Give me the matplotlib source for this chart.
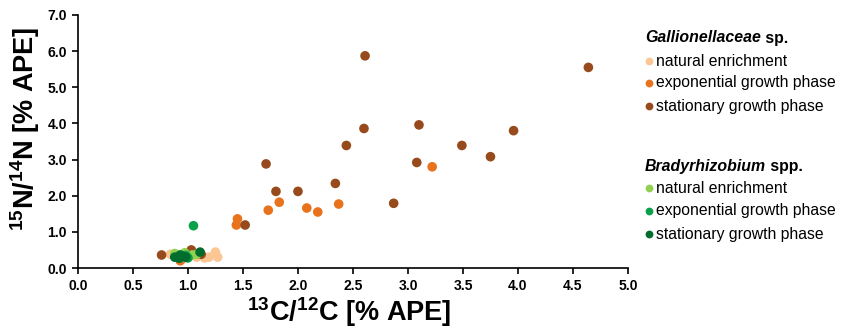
import matplotlib
matplotlib.use("Agg")
import matplotlib.pyplot as plt
from matplotlib.lines import Line2D

plt.rcParams['font.family'] = ['Liberation Sans', 'DejaVu Sans']
plt.rcParams['mathtext.fontset'] = 'custom'
plt.rcParams['mathtext.rm'] = 'Liberation Sans:bold'
plt.rcParams['mathtext.bf'] = 'Liberation Sans:bold'
plt.rcParams['mathtext.default'] = 'rm'

# Gallionellaceae sp.
gal_nat_x = [0.84, 0.90, 0.95, 1.00, 1.08, 1.15, 1.19, 1.25, 1.27]
gal_nat_y = [0.38, 0.30, 0.25, 0.40, 0.30, 0.28, 0.30, 0.44, 0.30]
gal_exp_x = [0.93, 1.00, 1.44, 1.45, 1.73, 1.83, 2.08, 2.18, 2.37, 3.22]
gal_exp_y = [0.20, 0.35, 1.19, 1.36, 1.60, 1.82, 1.66, 1.55, 1.77, 2.80]
gal_sta_x = [0.76, 1.03, 1.12, 0.97, 1.52, 1.71, 1.80, 2.00, 2.34, 2.44, 2.60, 2.61,
             2.87, 3.08, 3.10, 3.49, 3.75, 3.96, 4.64]
gal_sta_y = [0.36, 0.50, 0.38, 0.30, 1.19, 2.88, 2.12, 2.12, 2.34, 3.39, 3.86, 5.87,
             1.79, 2.92, 3.96, 3.39, 3.08, 3.80, 5.55]

# Bradyrhizobium spp.
bra_nat_x = [0.88, 0.92, 0.97, 1.04, 1.08, 0.95]
bra_nat_y = [0.40, 0.35, 0.42, 0.36, 0.38, 0.30]
bra_exp_x = [1.05, 0.93, 0.98, 1.00]
bra_exp_y = [1.17, 0.30, 0.35, 0.28]
bra_sta_x = [0.88, 0.92, 0.95, 0.98, 1.11, 0.93]
bra_sta_y = [0.30, 0.27, 0.32, 0.30, 0.44, 0.36]

colors = {
    'gal_nat': '#FBC594', 'gal_exp': '#E8731C', 'gal_sta': '#974A1C',
    'bra_nat': '#92D050', 'bra_exp': '#0BA04A', 'bra_sta': '#006C2E',
}

x_ticks = [0.0, 0.5, 1.0, 1.5, 2.0, 2.5, 3.0, 3.5, 4.0, 4.5, 5.0]
y_ticks = [0.0, 1.0, 2.0, 3.0, 4.0, 5.0, 6.0, 7.0]

fig = plt.figure(figsize=(8.41, 3.31), dpi=100)
ax = fig.add_axes([0.0927, 0.1903, 0.6540, 0.7644])

series = [
    (gal_nat_x, gal_nat_y, 'gal_nat'),
    (gal_exp_x, gal_exp_y, 'gal_exp'),
    (gal_sta_x, gal_sta_y, 'gal_sta'),
    (bra_nat_x, bra_nat_y, 'bra_nat'),
    (bra_exp_x, bra_exp_y, 'bra_exp'),
    (bra_sta_x, bra_sta_y, 'bra_sta'),
]
for xs, ys, key in series:
    ax.scatter(xs, ys, s=48, color=colors[key], edgecolors='none', zorder=3)

ax.set_xlim(0, 5.0)
ax.set_ylim(0, 7.0)
ax.set_xticks(x_ticks)
ax.set_yticks(y_ticks)
ax.set_xticklabels([f"{v:.1f}" for v in x_ticks], fontweight='bold', fontsize=10)
ax.set_yticklabels([f"{v:.1f}" for v in y_ticks], fontweight='bold', fontsize=10)
ax.tick_params(direction='out', length=4, width=1.2, colors='black', pad=4)
for s in ['top', 'right']:
    ax.spines[s].set_visible(False)
for s in ['left', 'bottom']:
    ax.spines[s].set_linewidth(1.2)
    ax.spines[s].set_color('black')

ax.set_xlabel(r"$^{13}$C/$^{12}$C [% APE]", fontsize=19.5, fontweight='bold')
ax.set_ylabel(r"$^{15}$N/$^{14}$N [% APE]", fontsize=19.5, fontweight='bold')
ax.xaxis.set_label_coords(0.493, -0.108)
ax.yaxis.set_label_coords(-0.066, 0.55)

W, H = 841.0, 331.0

def fx(px):
    return px / W

def fy(py):
    return 1 - py / H

def title(px, py, italic, rest):
    t = fig.text(fx(px), fy(py), italic, fontsize=11.4, fontweight='bold', fontstyle='italic',
                 va='center', ha='left')
    fig.canvas.draw()
    bb = t.get_window_extent()
    fig.text(bb.x1 / W, fy(py), rest, fontsize=11.4, fontweight='bold', va='center', ha='left')

def entry(py, key, label):
    fig.add_artist(Line2D([fx(648.5)], [fy(py)], marker='o', markersize=5.6, color=colors[key],
                          markeredgewidth=0, linestyle='none', transform=fig.transFigure))
    fig.text(fx(656.5), fy(py), label, fontsize=11.3, va='center', ha='left')

title(645, 38, 'Gallionellaceae', ' sp.')
entry(61, 'gal_nat', 'natural enrichment')
entry(83, 'gal_exp', 'exponential growth phase')
entry(106, 'gal_sta', 'stationary growth phase')

title(645, 166, 'Bradyrhizobium', ' spp.')
entry(188, 'bra_nat', 'natural enrichment')
entry(211, 'bra_exp', 'exponential growth phase')
entry(234, 'bra_sta', 'stationary growth phase')

fig.savefig('out.png', dpi=100)
